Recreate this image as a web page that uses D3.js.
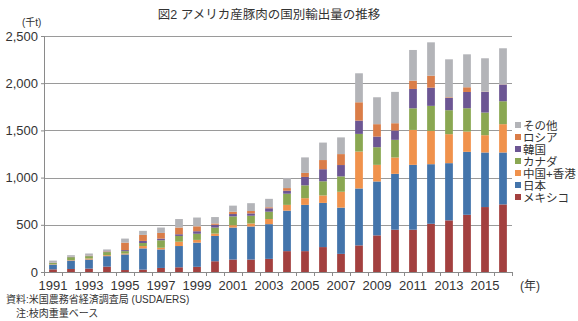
<!DOCTYPE html>
<html>
<head>
<meta charset="utf-8">
<script src="https://cdn.jsdelivr.net/npm/d3@7"></script>
<style>
  body { margin: 0; background: #fff; }
  text { font-family: "Liberation Sans", "Noto Sans CJK JP", sans-serif; fill: #333; }
</style>
</head>
<body>
<script>
// years on x axis
var years = d3.range(1991, 2017);
var xTickYears = [1991, 1993, 1995, 1997, 1999, 2001, 2003, 2005, 2007, 2009, 2011, 2013, 2015];
var yTicks = [0, 500, 1000, 1500, 2000, 2500];

// export volume by destination (thousand t, carcass weight)
var mexico = [28, 32, 36, 57, 21, 25, 43, 50, 55, 114, 132, 132, 139, 221, 221, 264, 192, 282, 388, 448, 448, 511, 547, 606, 688, 716];
var japan = [50, 89, 96, 111, 165, 225, 196, 225, 256, 268, 339, 350, 368, 429, 490, 468, 490, 603, 571, 592, 687, 631, 606, 667, 578, 550];
var chinaHK = [4, 5, 11, 10, 10, 25, 18, 46, 29, 25, 25, 32, 54, 61, 71, 79, 168, 391, 176, 173, 370, 353, 307, 215, 183, 300];
var canada = [13, 31, 25, 33, 25, 32, 79, 61, 65, 64, 93, 82, 78, 118, 136, 150, 163, 187, 187, 187, 229, 265, 254, 247, 240, 243];
var korea = [3, 3, 4, 5, 11, 22, 18, 18, 27, 29, 25, 25, 36, 32, 89, 128, 120, 141, 113, 99, 205, 193, 130, 172, 218, 177];
var russia = [2, 2, 3, 4, 79, 64, 60, 71, 52, 14, 25, 25, 11, 28, 43, 97, 116, 194, 131, 77, 88, 127, 7, 50, 3, 2];
var other = [21, 16, 21, 19, 43, 43, 57, 90, 93, 68, 64, 83, 89, 107, 164, 185, 177, 307, 285, 332, 325, 353, 402, 349, 354, 382];

var seriesNames = ["メキシコ", "日本", "中国+香港", "カナダ", "韓国", "ロシア", "その他"];
var seriesVals = [mexico, japan, chinaHK, canada, korea, russia, other];
var colors = ["#a3403f", "#4374ab", "#f0924c", "#8aa752", "#6c5693", "#da7d48", "#b3b4b8"];

var W = 578, H = 321;
var m = { left: 44, right: 66, top: 36, bottom: 49 };

var svg = d3.select("body").append("svg")
    .attr("width", W)
    .attr("height", H);

var table = years.map(function (y, i) {
    var row = { year: y };
    seriesNames.forEach(function (n, k) { row[n] = seriesVals[k][i]; });
    return row;
});
var stacked = d3.stack().keys(seriesNames)(table);

var x = d3.scaleBand()
    .domain(years)
    .range([m.left, W - m.right])
    .paddingInner(0.57)
    .paddingOuter(0.285);
var y = d3.scaleLinear()
    .domain([0, 2500])
    .range([H - m.bottom, m.top]);

// gridlines
svg.append("g")
    .selectAll("line")
    .data(yTicks.slice(1))
    .join("line")
    .attr("x1", m.left)
    .attr("x2", W - m.right)
    .attr("y1", function (d) { return Math.round(y(d)) + 0.5; })
    .attr("y2", function (d) { return Math.round(y(d)) + 0.5; })
    .attr("stroke", "#9a9a9a")
    .attr("stroke-width", 1);

// bars
svg.append("g")
    .selectAll("g")
    .data(stacked)
    .join("g")
    .attr("fill", function (d, i) { return colors[i]; })
    .selectAll("rect")
    .data(function (d) { return d; })
    .join("rect")
    .attr("x", function (d) { return x(d.data.year); })
    .attr("width", x.bandwidth())
    .attr("y", function (d) { return y(d[1]); })
    .attr("height", function (d) { return y(d[0]) - y(d[1]); });

// y axis
var yAxis = svg.append("g")
    .attr("transform", "translate(" + m.left + ",0)")
    .call(d3.axisLeft(y).tickValues(yTicks).tickSize(3).tickPadding(3).tickFormat(d3.format(",")));
yAxis.select(".domain").attr("stroke", "#8a8a8a");
yAxis.selectAll(".tick line").attr("stroke", "#8a8a8a");
yAxis.selectAll(".tick text")
    .style("font-size", "13px")
    .attr("fill", "#333");

// x axis (ticks at band boundaries)
var xb = H - m.bottom;
var gx = svg.append("g");
gx.append("line")
    .attr("x1", m.left).attr("x2", W - m.right)
    .attr("y1", xb + 0.5).attr("y2", xb + 0.5)
    .attr("stroke", "#8a8a8a");
gx.selectAll("line.tk")
    .data(years.concat([2017]))
    .join("line")
    .attr("class", "tk")
    .attr("x1", function (d, i) { return m.left + i * x.step() + 0.5; })
    .attr("x2", function (d, i) { return m.left + i * x.step() + 0.5; })
    .attr("y1", xb).attr("y2", xb + 4)
    .attr("stroke", "#8a8a8a");
gx.selectAll("text")
    .data(xTickYears)
    .join("text")
    .attr("x", function (d) { return x(d) + x.bandwidth() / 2; })
    .attr("y", xb + 18)
    .attr("text-anchor", "middle")
    .style("font-size", "13px")
    .text(function (d) { return d; });

svg.append("text")
    .attr("x", 520).attr("y", xb + 18)
    .style("font-size", "12px")
    .text("(年)");

svg.append("text")
    .attr("x", 22).attr("y", 26)
    .style("font-size", "10px")
    .text("(千t)");

// title
svg.append("text")
    .attr("x", 269).attr("y", 19)
    .attr("text-anchor", "middle")
    .style("font-size", "12.5px")
    .text("図2 アメリカ産豚肉の国別輸出量の推移");

// legend (reverse order, top = その他)
var leg = svg.append("g")
    .selectAll("g")
    .data(seriesNames.slice().reverse())
    .join("g")
    .attr("transform", function (d, i) { return "translate(515," + (126 + i * 12) + ")"; });
leg.append("rect")
    .attr("x", 0).attr("y", -4)
    .attr("width", 6).attr("height", 6)
    .attr("fill", function (d) { return colors[seriesNames.indexOf(d)]; });
leg.append("text")
    .attr("x", 8).attr("y", 3.5)
    .style("font-size", "11.5px")
    .text(function (d) { return d; });

// notes
svg.append("text")
    .attr("x", 6).attr("y", 303)
    .style("font-size", "10px")
    .text("資料:米国農務省経済調査局 (USDA/ERS)");
svg.append("text")
    .attr("x", 16).attr("y", 317)
    .style("font-size", "10px")
    .text("注:枝肉重量ベース");
</script>
</body>
</html>
